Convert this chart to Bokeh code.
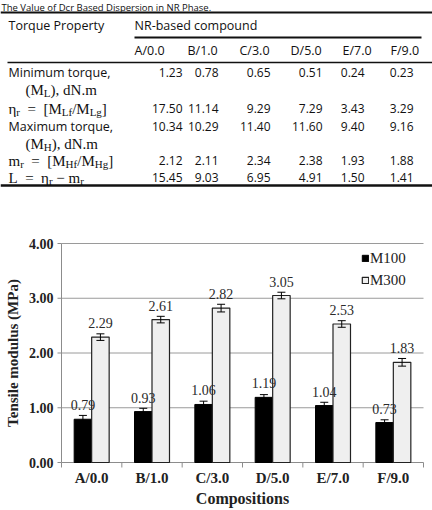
import numpy as np
from bokeh.plotting import figure
from bokeh.models import (ColumnDataSource, Range1d, Whisker, TeeHead, Legend, LegendItem)
from bokeh.layouts import column
from bokeh.core.properties import value
from bokeh.embed import file_html
from bokeh.resources import INLINE

# ---------------- table data ----------------
caption = "The Value of Dcr Based Dispersion in NR Phase."
compounds = ["A/0.0", "B/1.0", "C/3.0", "D/5.0", "E/7.0", "F/9.0"]
min_torque = [1.23, 0.78, 0.65, 0.51, 0.24, 0.23]
eta_r = [17.50, 11.14, 9.29, 7.29, 3.43, 3.29]
max_torque = [10.34, 10.29, 11.40, 11.60, 9.40, 9.16]
m_r = [2.12, 2.11, 2.34, 2.38, 1.93, 1.88]
L_val = [15.45, 9.03, 6.95, 4.91, 1.50, 1.41]

# ---------------- chart data ----------------
categories = compounds
m100 = [0.79, 0.93, 1.06, 1.19, 1.04, 0.73]
m100_err = [0.07, 0.06, 0.06, 0.05, 0.06, 0.05]
m300 = [2.29, 2.61, 2.82, 3.05, 2.53, 1.83]
m300_err = [0.06, 0.06, 0.07, 0.06, 0.06, 0.07]
y_ticks = [0, 1, 2, 3, 4]
y_tick_labels = ["0.00", "1.00", "2.00", "3.00", "4.00"]
x_title = "Compositions"
y_title = "Tensile modulus (MPa)"

SANS = "Open Sans"
SERIF = "Liberation Serif"
INK = "#111111"
NB = "\u00a0"

# ================= table figure =================
t = figure(width=432, height=200, x_range=Range1d(0, 432), y_range=Range1d(200, 0),
           output_backend="svg", toolbar_location=None,
           x_axis_location=None, y_axis_location=None,
           min_border_left=0, min_border_right=0, min_border_top=0, min_border_bottom=0)
t.grid.visible = False
t.outline_line_color = None


def txt(x, y, s, font=SANS, size="12.5px", align="left", baseline="middle"):
    t.text(x=[x], y=[y], text=[s], text_font=value(font), text_font_size=size,
           text_align=align, text_baseline=baseline, text_color=INK)


TW = {'(': .333, ')': .333, 'M': .889, 'L': .611, 'H': .722, ',': .25, ' ': .25, NB: .25,
      'd': .5, 'N': .722, '.': .25, 'm': .778, 'η': .52, 'r': .333, '=': .564,
      '[': .333, ']': .333, 'f': .333, 'g': .5, '/': .278, '−': .564}


def rich(x, y, segs, size=15, sub=11):
    for s, is_sub in segs:
        fs = sub if is_sub else size
        txt(x, y + (3 if is_sub else 0), s, font=SERIF, size=f"{fs}px")
        x += sum(TW.get(c, .5) for c in s) * fs


# caption (partly cut in the source; kept fully visible here)
txt(1, 0, caption, size="9.5px", baseline="top")

# rules
t.segment(x0=[0, 134, 7, 0], y0=[12, 37, 62, 185], x1=[432, 421, 432, 432], y1=[12, 37, 62, 185],
          line_color=INK, line_width=[2, 2, 1.5, 2.5])

txt(8, 25, "Torque Property")
txt(134, 25, "NR-based compound")

col_left = [134, 187, 239, 290, 342, 390]
col_right = [182, 218, 270, 322, 364, 413]
for c, xl in zip(compounds, col_left):
    txt(xl, 50, c)

EQ = NB * 2 + "=" + NB * 2
txt(8, 72, "Minimum torque,")
rich(25, 89, [("(M", 0), ("L", 1), ("), dN.m", 0)])
rich(8, 108, [("η", 0), ("r", 1), (EQ + "[M", 0), ("Lf", 1), ("/M", 0), ("Lg", 1), ("]", 0)])
txt(8, 126, "Maximum torque,")
rich(25, 143, [("(M", 0), ("H", 1), ("), dN.m", 0)])
rich(8, 160, [("m", 0), ("r", 1), (EQ + "[M", 0), ("Hf", 1), ("/M", 0), ("Hg", 1), ("]", 0)])
rich(8, 177, [("L" + EQ + "η", 0), ("r", 1), (NB + "−" + NB + "m", 0), ("r", 1)])

rows = [(min_torque, 72), (eta_r, 108), (max_torque, 126), (m_r, 160), (L_val, 177)]
vx, vy, vt = [], [], []
for vals, yy in rows:
    for v, xr in zip(vals, col_right):
        vx.append(xr); vy.append(yy); vt.append(f"{v:.2f}")
t.text(x=vx, y=vy, text=vt, text_font=value(SANS), text_font_size="12px",
       text_align="right", text_baseline="middle", text_color=INK)

# ================= chart figure =================
# The frame covers the whole figure; axes are drawn with the figure's own scales.
n = len(categories)
ppu = (423 - 61) / n           # pixels per category
ppy = (462 - 243) / 4          # pixels per MPa
H = 310                        # figure height; page y 200..510, zero line at page y 462
p = figure(width=432, height=H,
           x_range=Range1d(-61 / ppu, n + 9 / ppu),
           y_range=Range1d(-(510 - 462) / ppy, (462 - 200) / ppy),
           output_backend="svg", toolbar_location=None,
           x_axis_location=None, y_axis_location=None,
           min_border_left=0, min_border_right=0, min_border_top=0, min_border_bottom=0)
p.outline_line_color = None
p.grid.visible = False

AX = "#8c8c8c"
LBL = "#222222"
# horizontal grid lines
gy = [v for v in y_ticks if v > 0]
p.segment(x0=[0] * len(gy), x1=[n] * len(gy), y0=gy, y1=gy, line_color="#9a9a9a", line_width=1)

# y axis
p.segment(x0=[0], y0=[y_ticks[0]], x1=[0], y1=[y_ticks[-1]], line_color=AX, line_width=1)
p.ray(x=[0] * len(y_ticks), y=y_ticks, length=4, length_units="screen", angle=np.pi,
      line_color=AX, line_width=1)
p.text(x=[0] * len(y_ticks), y=y_ticks, text=y_tick_labels, x_offset=-8,
       text_align="right", text_baseline="middle", text_font=value(SERIF),
       text_font_size="14px", text_font_style="bold", text_color=LBL)
p.text(x=[0], y=[(y_ticks[0] + y_ticks[-1]) / 2], text=[y_title],
       x_offset=-49, angle=np.pi / 2, text_align="center", text_baseline="middle",
       text_font=value(SERIF), text_font_size="15px", text_font_style="bold", text_color=LBL)

# x axis
x = np.arange(n) + 0.5
bounds = np.arange(n + 1)
p.segment(x0=[0], y0=[0], x1=[n], y1=[0], line_color=AX, line_width=1)
p.ray(x=bounds, y=[0] * len(bounds), length=5, length_units="screen", angle=-np.pi / 2,
      line_color=AX, line_width=1)
p.text(x=x, y=[0] * n, text=categories, y_offset=15, text_align="center",
       text_baseline="middle", text_font=value(SERIF), text_font_size="15px",
       text_font_style="bold", text_color=LBL)
p.text(x=[n / 2], y=[0], text=[x_title], y_offset=36, text_align="center",
       text_baseline="middle", text_font=value(SERIF), text_font_size="16px",
       text_font_style="bold", text_color=LBL)

# bars
w = 0.29
src = ColumnDataSource(dict(
    x100=x - w / 2, x300=x + w / 2,
    m100=m100, m300=m300,
    lo100=np.array(m100) - np.array(m100_err), hi100=np.array(m100) + np.array(m100_err),
    lo300=np.array(m300) - np.array(m300_err), hi300=np.array(m300) + np.array(m300_err),
    lab100=[f"{v:.2f}" for v in m100], lab300=[f"{v:.2f}" for v in m300],
))

r1 = p.vbar(x='x100', top='m100', bottom=0, width=w, fill_color="black", line_color="black",
            source=src)
r2 = p.vbar(x='x300', top='m300', bottom=0, width=w, fill_color="#efefef", line_color="#222222",
            line_width=1.2, source=src)

for b, lo, hi in [("x100", "lo100", "hi100"), ("x300", "lo300", "hi300")]:
    wk = Whisker(base=b, lower=lo, upper=hi, source=src, dimension="height",
                 line_color="black", line_width=1, level="overlay",
                 upper_head=TeeHead(size=8, line_color="black", line_width=1),
                 lower_head=TeeHead(size=8, line_color="black", line_width=1))
    p.add_layout(wk)

for xs, ys, ls in [("x100", "m100", "lab100"), ("x300", "m300", "lab300")]:
    p.text(x=xs, y=ys, text=ls, source=src, y_offset=-14, text_align="center",
           text_baseline="middle", text_font=value(SERIF), text_font_size="14px",
           text_color="#2a2a2a")

legend = Legend(items=[LegendItem(label="M100", renderers=[r1]),
                       LegendItem(label="M300", renderers=[r2])],
                location=(361, 220), margin=0, padding=4, spacing=2,
                glyph_width=8, glyph_height=8, label_standoff=1, label_height=20,
                label_text_font=SERIF, label_text_font_size="15px",
                label_text_color=LBL,
                border_line_color=None, background_fill_alpha=0)
p.add_layout(legend)

layout = column(t, p)
open("out.html", "w").write(file_html(layout, INLINE))
